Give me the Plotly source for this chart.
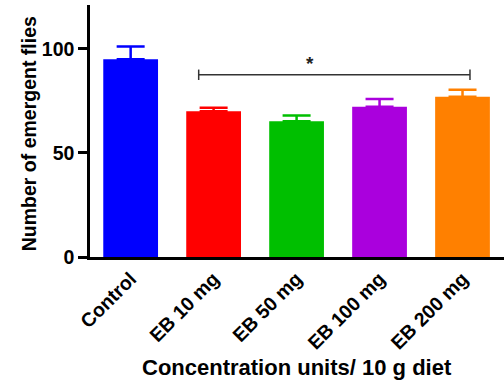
import plotly.graph_objects as go

categories = ["Control", "EB 10 mg", "EB 50 mg", "EB 100 mg", "EB 200 mg"]
means = [95.0, 70.0, 65.2, 72.1, 76.9]
sem = [6.1, 1.7, 2.7, 3.8, 3.4]
colors = ["#0000ff", "#ff0000", "#00bf00", "#aa00dd", "#ff8000"]
y_ticks = [0, 50, 100]

sig_from = 1 - 0.18
sig_to = 4 + 0.09
sig_y = 87.5
sig_label = "*"

FONT = "Liberation Sans, Arial, sans-serif"

fig = go.Figure()
for i, cat in enumerate(categories):
    fig.add_trace(go.Bar(
        x=[i], y=[means[i]], width=0.66,
        marker=dict(color=colors[i], line=dict(width=0)),
        error_y=dict(type="data", symmetric=False, array=[sem[i]], arrayminus=[0],
                     color=colors[i], thickness=2.5, width=14),
        showlegend=False, name=cat,
    ))

# significance bracket
fig.add_shape(type="line", xref="x", yref="y", x0=sig_from, x1=sig_to, y0=sig_y, y1=sig_y,
              line=dict(color="#333333", width=1.5))
for xx in (sig_from, sig_to):
    fig.add_shape(type="line", xref="x", yref="y", x0=xx, x1=xx, y0=sig_y - 2.5, y1=sig_y + 2.5,
                  line=dict(color="#333333", width=1.5))
fig.add_annotation(x=2.16, y=sig_y - 0.5, xref="x", yref="y", text=sig_label, showarrow=False,
                   yanchor="bottom", font=dict(size=19, color="#222222", family=FONT))

# axis titles
fig.add_annotation(x=0.5, y=-0.438, xref="paper", yref="paper", text="Concentration units/ 10 g diet",
                   showarrow=False, xanchor="center", yanchor="middle",
                   font=dict(size=22, color="black", family=FONT, weight="bold"))
fig.add_annotation(x=-0.148, y=0.49, xref="paper", yref="paper", text="Number of emergent flies",
                   showarrow=False, textangle=-90, xanchor="center", yanchor="middle",
                   font=dict(size=19.5, color="black", family=FONT, weight="bold"))

fig.update_layout(
    width=504, height=383,
    margin=dict(l=90, r=0, t=5, b=126),
    paper_bgcolor="white", plot_bgcolor="white",
    barmode="overlay",
    font=dict(family=FONT, color="black", weight="bold"),
    xaxis=dict(
        range=[-0.49, 4.5], tickmode="array", tickvals=list(range(len(categories))),
        ticktext=categories, tickangle=-45, ticks="", showgrid=False, zeroline=False,
        showline=True, linecolor="black", linewidth=2.5,
        tickfont=dict(size=19.5, family=FONT, color="black", weight="bold"),
        automargin=False,
    ),
    yaxis=dict(
        range=[0, 121], tickvals=y_ticks, ticks="outside", ticklen=9, tickwidth=2.5,
        tickcolor="black", showgrid=False, zeroline=False,
        showline=True, linecolor="black", linewidth=2.5,
        tickfont=dict(size=19.5, family=FONT, color="black", weight="bold"),
        automargin=False,
    ),
)

fig.write_html("out.html")
